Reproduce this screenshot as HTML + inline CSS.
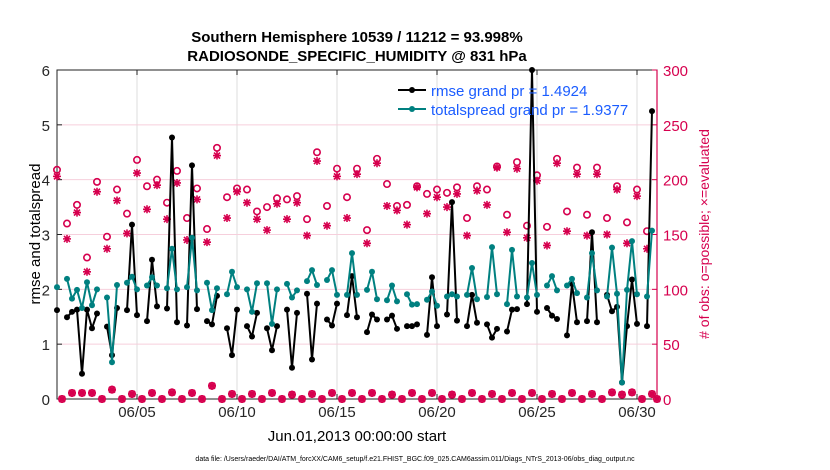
<!DOCTYPE html>
<html><head><meta charset="utf-8"><style>
body{margin:0;background:#fff;}
svg{display:block;font-family:"Liberation Sans",sans-serif;}
</style></head><body>
<svg id="chart" width="830" height="470" viewBox="0 0 830 470">
<g id="grid"></g>
<g id="axes"></g>
<g id="marks"></g>
<text x="357" y="42" text-anchor="middle" font-size="15" font-weight="bold">Southern Hemisphere 10539 / 11212 = 93.998%</text>
<text x="357" y="61" text-anchor="middle" font-size="15" font-weight="bold">RADIOSONDE_SPECIFIC_HUMIDITY @ 831 hPa</text>
<text x="357" y="441" text-anchor="middle" font-size="15">Jun.01,2013 00:00:00 start</text>
<text transform="translate(40,234) rotate(-90)" text-anchor="middle" font-size="15">rmse and totalspread</text>
<text transform="translate(709,234) rotate(-90)" text-anchor="middle" font-size="14" fill="#d6004e"># of obs: o=possible; ×=evaluated</text>
<text x="415" y="461" text-anchor="middle" font-size="7">data file: /Users/raeder/DAI/ATM_forcXX/CAM6_setup/f.e21.FHIST_BGC.f09_025.CAM6assim.011/Diags_NTrS_2013-06/obs_diag_output.nc</text>
<g>
<line x1="398" y1="90" x2="426" y2="90" stroke="#000" stroke-width="2"/><circle cx="412" cy="90" r="3" fill="#000"/>
<text x="431" y="96" font-size="15" fill="#1a5cff">rmse grand pr = 1.4924</text>
<line x1="398" y1="109" x2="426" y2="109" stroke="#008080" stroke-width="2"/><circle cx="412" cy="109" r="3" fill="#008080"/>
<text x="431" y="115" font-size="15" fill="#1a5cff">totalspread grand pr = 1.9377</text>
</g>
</svg>
<script>
const N=null;
const rmse=[1.62,N,1.49,1.59,1.63,0.46,1.63,1.29,1.56,N,1.32,0.8,1.66,N,1.62,3.18,1.53,N,1.42,2.54,
1.69,N,1.65,4.77,1.4,N,1.34,4.26,1.64,N,1.42,1.36,1.88,N,1.29,0.8,1.63,N,1.33,1.14,
1.57,N,1.29,0.89,1.33,N,1.63,0.57,1.57,N,1.92,0.72,1.74,N,1.45,1.34,1.74,N,1.53,2.24,
1.49,N,1.22,1.54,1.45,N,1.45,1.52,1.28,N,1.33,1.33,1.36,N,1.17,2.22,1.33,N,1.54,3.59,
1.43,N,1.33,1.9,1.39,N,1.36,1.12,1.28,N,1.23,1.63,1.64,N,1.73,6.0,1.59,N,1.66,1.52,
1.46,N,1.16,2.1,1.4,N,1.42,3.04,1.4,N,1.9,1.6,1.68,0.3,1.33,2.18,1.37,N,1.33,5.25,N];
const spread=[2.04,N,2.19,1.83,1.99,1.66,2.13,1.71,2.0,N,1.85,0.67,2.08,N,2.12,2.23,2.0,N,2.07,2.22,
2.07,N,2.02,2.74,2.0,N,2.04,2.94,1.98,N,2.12,1.62,2.02,N,1.91,2.32,2.04,N,2.0,1.59,
2.11,N,2.11,1.37,2.0,N,2.1,1.85,1.98,N,2.15,2.35,2.08,N,2.17,2.35,1.9,N,1.9,2.66,
1.9,N,1.99,2.32,1.82,N,1.8,2.07,1.78,N,1.91,1.72,1.73,N,1.81,1.96,1.7,N,1.87,1.91,
1.87,N,1.9,2.39,1.82,N,1.86,2.77,1.91,N,1.73,2.72,1.87,N,1.85,2.48,1.9,N,2.07,2.24,
1.98,N,2.07,2.19,1.93,N,1.85,2.66,1.98,N,1.87,2.76,1.92,0.3,1.99,2.88,1.91,N,1.87,3.07,N];
const possible=[209,0,160,5.5,177,5.5,129,5.5,198,0,148,8.5,191,0,169,4.6,218,0,194,5.5,
200,0,179,6,208,0,165,5.5,192,0,155,12,229,0,184,4.6,192,0,191,4.6,
171,0,175,5.5,183,0,182,4,185,0,164,4.6,225,0,176,5.5,210,0,184,5.5,
210,0,154,5.5,219,0,196,4,176,0,177,5.5,194,0,187,5.5,191,0,188,4,
193,0,165,5.5,194,0,191,4.6,212,0,168,5.5,216,0,158,5.5,204,0,157,4.6,
219,0,171,5.5,211,0,168,4.6,211,0,165,6,194,4,161,6,191,0,153,4.6,0];
const evaluated=[203,0,146,5.5,170,5.5,116,5.5,189,0,137,8.5,181,0,151,4.6,206,0,173,5.5,
195,0,164,6,197,0,145,5.5,182,0,143,12,222,0,165,4.6,189,0,179,4.6,
164,0,154,5.5,178,0,164,4,179,0,149,4.6,217,0,158,5.5,203,0,165,5.5,
205,0,142,5.5,215,0,176,4,172,0,159,5.5,193,0,169,5.5,184,0,175,4,
187,0,149,5.5,190,0,177,4.6,211,0,152,5.5,210,0,147,5.5,199,0,140,4.6,
215,0,153,5.5,205,0,149,4.6,205,0,150,6,191,4,142,6,185,0,137,4.6,0];
const leftTicks=[0,1,2,3,4,5,6];
const rightTicks=[0,50,100,150,200,250,300];
const dateTicks=[4,9,14,19,24,29];
const dateLabels=["06/05","06/10","06/15","06/20","06/25","06/30"];
const stepDays=0.25;

const L=57,R=657,T=70,B=399;
const xs=t=>L+t*(R-L)/30;
const yl=v=>B-v*(B-T)/6;
const yr=c=>B-c*(B-T)/300;
const NS="http://www.w3.org/2000/svg";
function mk(tag,attrs,parent){const e=document.createElementNS(NS,tag);for(const k in attrs)e.setAttribute(k,attrs[k]);parent.appendChild(e);return e;}
const grid=document.getElementById('grid'),axes=document.getElementById('axes'),marks=document.getElementById('marks');
const CR="#d6004e";
dateTicks.forEach(d=>{const l=mk('line',{x1:xs(d),x2:xs(d),y1:T,y2:B,stroke:'#dcdcdc','stroke-width':1},grid);

});
rightTicks.forEach(c=>{const l=mk('line',{x1:L,x2:R,y1:yr(c),y2:yr(c),stroke:'#f6cfdc','stroke-width':1},grid);

});
mk('rect',{x:L,y:T,width:R-L,height:B-T,fill:'none',stroke:'#222','stroke-width':1},axes);
mk('line',{x1:R,x2:R,y1:T,y2:B,stroke:CR,'stroke-width':1.2},axes);
leftTicks.forEach(v=>{mk('line',{x1:L,x2:L+5,y1:yl(v),y2:yl(v),stroke:'#222'},axes);
const t=mk('text',{x:L-7,y:yl(v)+6,'text-anchor':'end','font-size':15,fill:'#262626'},axes);t.textContent=v;

});
rightTicks.forEach(c=>{mk('line',{x1:R-5,x2:R,y1:yr(c),y2:yr(c),stroke:CR},axes);
const t=mk('text',{x:R+6,y:yr(c)+6,'font-size':15,fill:CR},axes);t.textContent=c;

});
dateTicks.forEach((d,i)=>{mk('line',{x1:xs(d),x2:xs(d),y1:B,y2:B-5,stroke:'#222'},axes);mk('line',{x1:xs(d),x2:xs(d),y1:T,y2:T+5,stroke:'#222'},axes);
const t=mk('text',{x:xs(d),y:B+18,'text-anchor':'middle','font-size':15,fill:'#262626'},axes);t.textContent=dateLabels[i];

});
possible.forEach((c,i)=>{const x=xs(i*stepDays),y=yr(c);
const o=mk('circle',{cx:x,cy:y,r:3.2,fill:'none',stroke:CR,'stroke-width':1.6},marks);

});
evaluated.forEach((c,i)=>{const x=xs(i*stepDays),y=yr(c);const s=4;
const g=mk('path',{d:`M${x-s} ${y}H${x+s}M${x} ${y-s}V${y+s}M${x-3} ${y-3}L${x+3} ${y+3}M${x-3} ${y+3}L${x+3} ${y-3}`,stroke:CR,'stroke-width':1.6},marks);

});
function series(arr,color,name){
let d='';let pen=false;
arr.forEach((v,i)=>{if(v===null){pen=false;return;}d+=(pen?'L':'M')+xs(i*stepDays)+' '+yl(v);pen=true;});
const p=mk('path',{d:d,fill:'none',stroke:color,'stroke-width':2,'stroke-linejoin':'round'},marks);


arr.forEach((v,i)=>{if(v===null)return;const c=mk('circle',{cx:xs(i*stepDays),cy:yl(v),r:3,fill:color},marks);

});
}
series(rmse,'#000','rmse');
series(spread,'#008080','totalspread');
</script>
</body></html>
